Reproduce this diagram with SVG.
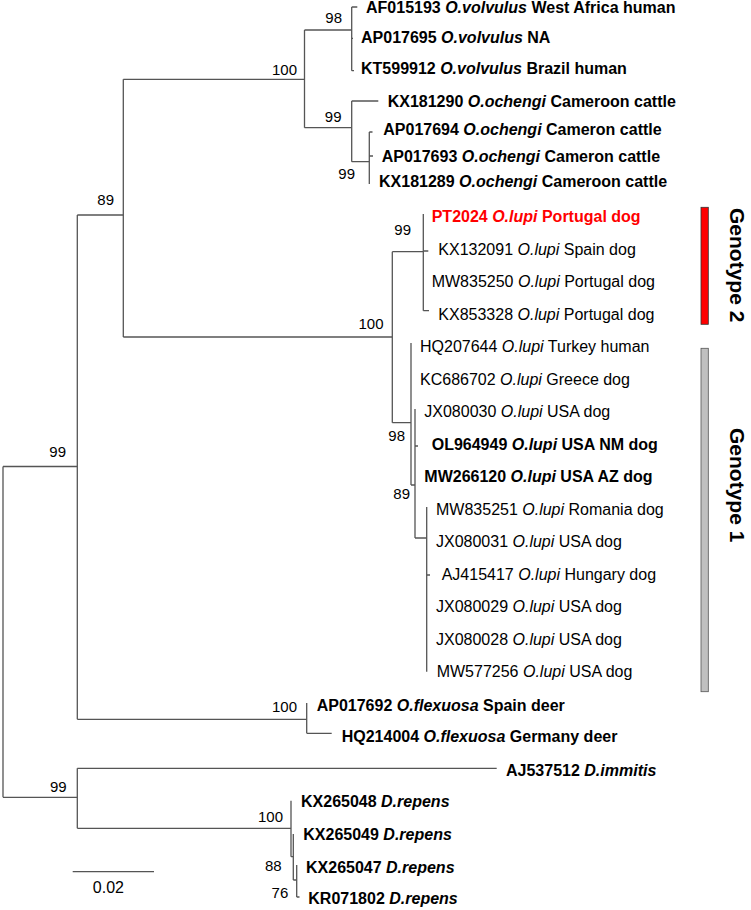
<svg xmlns="http://www.w3.org/2000/svg" width="751" height="910" viewBox="0 0 751 910">
<style>
text{font-family:"Liberation Sans",Arial,Helvetica,sans-serif;fill:#000}
.leaf{font-size:16px}
.b{font-weight:bold}
.i{font-style:italic}
.bs{font-size:15px;text-anchor:end}
.geno{font-size:21px;font-weight:bold}
.br{fill:none;stroke:#555;stroke-width:1.3}
</style>
<rect width="751" height="910" fill="#fff"/>
<g id="connectors" class="br">
<path d="M3,466.5 V797.3 M3,466.5 H77.3 M3,797.3 H77.3"/>
<path d="M77.3,215 V719.3 M77.3,215 H123.3 M77.3,719.3 H306.7"/>
<path d="M123.3,79.3 V337 M123.3,79.3 H304.5 M123.3,337 H392.3"/>
<path d="M304.5,30 V127.7 M304.5,30 H351.7 M304.5,127.7 H351.7"/>
<path d="M351.7,7 V70.7 M351.7,7 H357.3 M351.7,38.3 H353 M351.7,70.7 H354"/>
<path d="M351.7,101 V161.7 M351.7,101 H378.3 M351.7,161.7 H369.3"/>
<path d="M369.3,132 V184 M369.3,132 H372.5 M369.3,156 H373"/>
<path d="M392.3,251.7 V422.7 M392.3,251.7 H423.3 M392.3,422.7 H411"/>
<path d="M423.3,214 V310.7 M423.3,251 H428.3 M423.3,310.7 H429"/>
<path d="M411,343 V485 M411,485 H415"/>
<path d="M415,409 V538 M415,446 H418 M415,538 H426.7"/>
<path d="M426.7,507 V671.7 M426.7,575 H430"/>
<path d="M306.7,703 V733.3 M306.7,733.3 H331.7"/>
<path d="M77.3,768.3 V828.3 M77.3,768.3 H496.7 M77.3,828.3 H291"/>
<path d="M291,800.7 V856.7 M291,856.7 H293.3"/>
<path d="M293.3,834 V880 M293.3,880 H296.7"/>
<path d="M296.7,865 V897 M296.7,897 H299.5"/>
<path d="M72.7,871.7 H154"/>
</g>
<g id="bootstrap">
<text class="bs" x="342" y="23.4">98</text>
<text class="bs" x="297" y="75.4">100</text>
<text class="bs" x="341.5" y="122">99</text>
<text class="bs" x="355" y="178.7">99</text>
<text class="bs" x="114" y="205.4">89</text>
<text class="bs" x="66" y="457">99</text>
<text class="bs" x="383.5" y="329.4">100</text>
<text class="bs" x="411" y="235.4">99</text>
<text class="bs" x="405" y="441.4">98</text>
<text class="bs" x="410" y="498.7">89</text>
<text class="bs" x="297" y="712">100</text>
<text class="bs" x="66.7" y="792">99</text>
<text class="bs" x="283" y="822">100</text>
<text class="bs" x="281.7" y="871.4">88</text>
<text class="bs" x="288.3" y="898">76</text>
</g>
<g id="leaf-AF015193"><text class="leaf b" x="366" y="13.2">AF015193 <tspan class="i">O.volvulus</tspan> West Africa human</text></g>
<g id="leaf-AP017695"><text class="leaf b" x="361" y="43">AP017695 <tspan class="i">O.volvulus</tspan> NA</text></g>
<g id="leaf-KT599912"><text class="leaf b" x="361" y="74">KT599912 <tspan class="i">O.volvulus</tspan> Brazil human</text></g>
<g id="leaf-KX181290"><text class="leaf b" x="387.7" y="106.7">KX181290 <tspan class="i">O.ochengi</tspan> Cameroon cattle</text></g>
<g id="leaf-AP017694"><text class="leaf b" x="383.3" y="135">AP017694 <tspan class="i">O.ochengi</tspan> Cameron cattle</text></g>
<g id="leaf-AP017693"><text class="leaf b" x="381.7" y="161.7">AP017693 <tspan class="i">O.ochengi</tspan> Cameron cattle</text></g>
<g id="leaf-KX181289"><text class="leaf b" x="379" y="187.4">KX181289 <tspan class="i">O.ochengi</tspan> Cameroon cattle</text></g>
<g id="leaf-PT2024"><text class="leaf b" x="431.7" y="222.4" style="fill:#ff0000">PT2024 <tspan class="i" style="fill:#ff0000">O.lupi</tspan> Portugal dog</text></g>
<g id="leaf-KX132091"><text class="leaf" x="438.3" y="254.9">KX132091 <tspan class="i">O.lupi</tspan> Spain dog</text></g>
<g id="leaf-MW835250"><text class="leaf" x="431.7" y="287.4">MW835250 <tspan class="i">O.lupi</tspan> Portugal dog</text></g>
<g id="leaf-KX853328"><text class="leaf" x="438.3" y="319.9">KX853328 <tspan class="i">O.lupi</tspan> Portugal dog</text></g>
<g id="leaf-HQ207644"><text class="leaf" x="420" y="352.4">HQ207644 <tspan class="i">O.lupi</tspan> Turkey human</text></g>
<g id="leaf-KC686702"><text class="leaf" x="420" y="384.9">KC686702 <tspan class="i">O.lupi</tspan> Greece dog</text></g>
<g id="leaf-JX080030"><text class="leaf" x="424.3" y="417.4">JX080030 <tspan class="i">O.lupi</tspan> USA dog</text></g>
<g id="leaf-OL964949"><text class="leaf b" x="431.7" y="449.9">OL964949 <tspan class="i">O.lupi</tspan> USA NM dog</text></g>
<g id="leaf-MW266120"><text class="leaf b" x="424.3" y="482.4">MW266120 <tspan class="i">O.lupi</tspan> USA AZ dog</text></g>
<g id="leaf-MW835251"><text class="leaf" x="436" y="514.9">MW835251 <tspan class="i">O.lupi</tspan> Romania dog</text></g>
<g id="leaf-JX080031"><text class="leaf" x="436" y="547.4">JX080031 <tspan class="i">O.lupi</tspan> USA dog</text></g>
<g id="leaf-AJ415417"><text class="leaf" x="441.7" y="579.9">AJ415417 <tspan class="i">O.lupi</tspan> Hungary dog</text></g>
<g id="leaf-JX080029"><text class="leaf" x="436" y="612.4">JX080029 <tspan class="i">O.lupi</tspan> USA dog</text></g>
<g id="leaf-JX080028"><text class="leaf" x="436" y="644.9">JX080028 <tspan class="i">O.lupi</tspan> USA dog</text></g>
<g id="leaf-MW577256"><text class="leaf" x="436.7" y="677.4">MW577256 <tspan class="i">O.lupi</tspan> USA dog</text></g>
<g id="leaf-AP017692"><text class="leaf b" x="316.7" y="710.7">AP017692 <tspan class="i">O.flexuosa</tspan> Spain deer</text></g>
<g id="leaf-HQ214004"><text class="leaf b" x="341.7" y="742.4">HQ214004 <tspan class="i">O.flexuosa</tspan> Germany deer</text></g>
<g id="leaf-AJ537512"><text class="leaf b" x="506" y="776.2">AJ537512 <tspan class="i">D.immitis</tspan></text></g>
<g id="leaf-KX265048"><text class="leaf b" x="301" y="807.4">KX265048 <tspan class="i">D.repens</tspan></text></g>
<g id="leaf-KX265049"><text class="leaf b" x="303.3" y="839.7">KX265049 <tspan class="i">D.repens</tspan></text></g>
<g id="leaf-KX265047"><text class="leaf b" x="306" y="872.7">KX265047 <tspan class="i">D.repens</tspan></text></g>
<g id="leaf-KR071802"><text class="leaf b" x="308.3" y="904">KR071802 <tspan class="i">D.repens</tspan></text></g>
<g id="scale"><text class="leaf" x="108.4" y="892.5" text-anchor="middle">0.02</text></g>
<g id="genotype2">
<rect x="701" y="207.3" width="7.3" height="117" fill="#ff0000" stroke="#333" stroke-width="0.8"/>
<text class="geno" transform="translate(730,208) rotate(90)">Genotype 2</text>
</g>
<g id="genotype1">
<rect x="701" y="348.3" width="7.3" height="343.4" fill="#c0c0c0" stroke="#555" stroke-width="0.8"/>
<text class="geno" transform="translate(730,428) rotate(90)">Genotype 1</text>
</g>
</svg>
